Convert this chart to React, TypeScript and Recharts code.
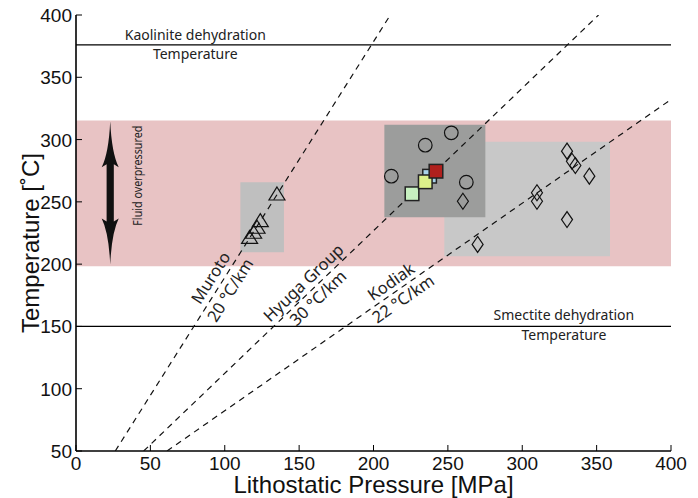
import React from "react";
import {
  ComposedChart,
  XAxis,
  YAxis,
  Scatter,
  Cell,
  Label,
  ReferenceArea,
  ReferenceLine,
  ReferenceDot,
} from "recharts";

const X_TICKS = [0, 50, 100, 150, 200, 250, 300, 350, 400];
const Y_TICKS = [50, 100, 150, 200, 250, 300, 350, 400];

// temperature windows / sample ranges: [pressure from, to], [temp from, to]
const FLUID_BAND = { x: [0, 400], y: [198.4, 315.3] };
const MUROTO_BOX = { x: [110.5, 139.8], y: [209.5, 265.8] };
const KODIAK_BOX = { x: [247.6, 359], y: [206.4, 298.2] };
const HYUGA_BOX = { x: [207.3, 275.2], y: [237.7, 311.8] };

const KAOLINITE_T = 376;
const SMECTITE_T = 150;

// geothermal gradients (pressure, temperature)
const MUROTO_GRADIENT = [
  { x: 26.4, y: 50 },
  { x: 211.3, y: 400 },
];
const HYUGA_GRADIENT = [
  { x: 45.5, y: 50 },
  { x: 351.3, y: 400 },
];
const KODIAK_GRADIENT = [
  { x: 61.2, y: 50 },
  { x: 400, y: 332.2 },
];

const MUROTO_PTS = [
  { x: 116.7, y: 221.1 },
  { x: 119.4, y: 225.2 },
  { x: 121.7, y: 229.2 },
  { x: 123.9, y: 234.5 },
  { x: 135.1, y: 255.9 },
];
const HYUGA_CIRCLES = [
  { x: 212, y: 270.6 },
  { x: 234.8, y: 295.5 },
  { x: 252.3, y: 305.4 },
  { x: 262.4, y: 265.8 },
];
const HYUGA_SQUARES = [
  { x: 237.7, y: 270.6 },
  { x: 225.9, y: 256.5 },
  { x: 234.8, y: 266.1 },
  { x: 242, y: 274.6 },
];
const KODIAK_PTS = [
  { x: 260.1, y: 250.5 },
  { x: 270, y: 215.8 },
  { x: 309.9, y: 257.3 },
  { x: 309.9, y: 250.5 },
  { x: 330.1, y: 290.7 },
  { x: 333.4, y: 282.6 },
  { x: 335.7, y: 279.2 },
  { x: 345.1, y: 270.6 },
  { x: 330.1, y: 235.8 },
];

// annotation anchors
const ARROW = [
  { x: 23, y: 199.7 },
  { x: 23, y: 314.7 },
];
const FLUID_LABEL = { x: 41, y: 271 };
const KAOLINITE_LABEL = { x: 80.2, y: KAOLINITE_T };
const SMECTITE_LABEL = { x: 328, y: SMECTITE_T };
const GRADIENT_LABELS = [
  { x: 97.3, y: 184, top: "Muroto", bottom: "20 °C/km", angle: -57.7, gap: 11.5 },
  { x: 158, y: 178.8, top: "Hyuga Group", bottom: "30 °C/km", angle: -43.8, gap: 10.5 },
  { x: 216, y: 178.8, top: "Kodiak", bottom: "22 °C/km", angle: -34.9, gap: 10.5 },
];

const SQUARE_FILLS = ["#a9d3ea", "#c7f0c0", "#dcf08a", "#b0201d"];

const AXIS_FONT = "'Liberation Sans', Arial, sans-serif";
const NOTE_FONT = "'Noto Sans', sans-serif";
const TICK_LEN = 6;

function BottomTick(props: any) {
  const { x, y, payload } = props;
  return (
    <g>
      <line x1={x} x2={x} y1={y} y2={y - TICK_LEN} stroke="#000" />
      <text x={x} y={y + 19} textAnchor="middle" fontSize={19} fontFamily={AXIS_FONT} fill="#111">
        {payload.value}
      </text>
    </g>
  );
}

function LeftTick(props: any) {
  const { x, y, payload } = props;
  return (
    <g>
      <line x1={x} x2={x + TICK_LEN} y1={y} y2={y} stroke="#000" />
      <text x={x - 4} y={y + 7} textAnchor="end" fontSize={19} fontFamily={AXIS_FONT} fill="#111">
        {payload.value}
      </text>
    </g>
  );
}

function TopTick(props: any) {
  const { x, y } = props;
  return <line x1={x} x2={x} y1={y} y2={y + TICK_LEN} stroke="#000" />;
}

function RightTick(props: any) {
  const { x, y } = props;
  return <line x1={x} x2={x - TICK_LEN} y1={y} y2={y} stroke="#000" />;
}

function Triangle(props: any) {
  const { cx, cy } = props;
  return (
    <path
      d={`M${cx},${cy - 7.5}L${cx + 8},${cy + 5.5}L${cx - 8},${cy + 5.5}Z`}
      fill="none"
      stroke="#111"
      strokeWidth={1.2}
    />
  );
}

function Ring(props: any) {
  const { cx, cy } = props;
  return <circle cx={cx} cy={cy} r={6.8} fill="none" stroke="#111" strokeWidth={1.2} />;
}

function Diamond(props: any) {
  const { cx, cy } = props;
  return (
    <path
      d={`M${cx},${cy - 8}L${cx + 5.5},${cy}L${cx},${cy + 8}L${cx - 5.5},${cy}Z`}
      fill="none"
      stroke="#111"
      strokeWidth={1.2}
    />
  );
}

function Square(props: any) {
  const { cx, cy, fill } = props;
  return <rect x={cx - 6.8} y={cy - 6.8} width={13.6} height={13.6} fill={fill} stroke="#222" strokeWidth={1.5} />;
}

function Nothing() {
  return <g />;
}

function DoubleArrow(props: any) {
  const { x1, y1, y2 } = props;
  const x = x1;
  const yt = Math.min(y1, y2);
  const yb = Math.max(y1, y2);
  const H = 46;
  const d = [
    `M${x},${yt}`,
    `Q${x + 1.5},${yt + 32} ${x + 8.5},${yt + H}`,
    `L${x + 3.6},${yt + H - 3}`,
    `L${x + 3.6},${yb - H + 3}`,
    `L${x + 8.5},${yb - H}`,
    `Q${x + 1.5},${yb - 32} ${x},${yb}`,
    `Q${x - 1.5},${yb - 32} ${x - 8.5},${yb - H}`,
    `L${x - 3.6},${yb - H + 3}`,
    `L${x - 3.6},${yt + H - 3}`,
    `L${x - 8.5},${yt + H}`,
    `Q${x - 1.5},${yt + 32} ${x},${yt}`,
    "Z",
  ].join(" ");
  return <path d={d} fill="#111" />;
}

function twoLineNote(above: string, below: string, up: number, down: number) {
  return (props: any) => (
    <g fontFamily={NOTE_FONT} fontSize={14} fill="#222" textAnchor="middle">
      <text x={props.cx} y={props.cy - up}>{above}</text>
      <text x={props.cx} y={props.cy + down}>{below}</text>
    </g>
  );
}

function gradientNote(top: string, bottom: string, angle: number, gap: number) {
  return (props: any) => (
    <g
      transform={`translate(${props.cx},${props.cy}) rotate(${angle})`}
      fontFamily={NOTE_FONT}
      fontSize={16.5}
      fill="#222"
      textAnchor="middle"
    >
      <text x={0} y={-gap + 5.5}>{top}</text>
      <text x={0} y={gap + 5.5}>{bottom}</text>
    </g>
  );
}

function fluidNote(props: any) {
  return (
    <text
      transform={`translate(${props.cx},${props.cy}) rotate(-90)`}
      textAnchor="middle"
      y={5}
      fontFamily={NOTE_FONT}
      fontSize={13}
      textLength={100}
      lengthAdjust="spacingAndGlyphs"
      fill="#222"
    >
      Fluid overpressured
    </text>
  );
}

export default function App() {
  const dashed = { stroke: "#111", strokeWidth: 1.2, strokeDasharray: "6 5" };
  return (
    <div style={{ position: "absolute", left: 0, top: 0, background: "#fff" }}>
      <ComposedChart width={698} height={498} margin={{ top: 15, right: 27, bottom: 0, left: 0 }}>
        <XAxis
          type="number"
          dataKey="x"
          domain={[0, 400]}
          ticks={X_TICKS}
          interval={0}
          allowDataOverflow
          height={47}
          tickSize={0}
          tickMargin={0}
          tickLine={false}
          tick={<BottomTick />}
          axisLine={{ stroke: "#000", strokeWidth: 1.6 }}
        >
          <Label
            content={(p: any) => (
              <text
                x={p.viewBox.x + p.viewBox.width / 2}
                y={p.viewBox.y + 42}
                textAnchor="middle"
                fontSize={24}
                fontFamily={AXIS_FONT}
                fill="#111"
              >
                Lithostatic Pressure [MPa]
              </text>
            )}
          />
        </XAxis>
        <XAxis
          xAxisId="top"
          orientation="top"
          type="number"
          domain={[0, 400]}
          ticks={X_TICKS}
          interval={0}
          allowDataOverflow
          height={0}
          tickSize={0}
          tickMargin={0}
          tickLine={false}
          tick={<TopTick />}
          axisLine={{ stroke: "#000", strokeWidth: 1.6 }}
        />
        <YAxis
          type="number"
          dataKey="y"
          domain={[50, 400]}
          ticks={Y_TICKS}
          interval={0}
          allowDataOverflow
          width={76}
          tickSize={0}
          tickMargin={0}
          tickLine={false}
          tick={<LeftTick />}
          axisLine={{ stroke: "#000", strokeWidth: 1.6 }}
        >
          <Label
            content={(p: any) => (
              <text
                transform={`translate(${p.viewBox.x + 39},${p.viewBox.y + p.viewBox.height / 2 + 10}) rotate(-90)`}
                textAnchor="middle"
                fontSize={24}
                fontFamily={AXIS_FONT}
                fill="#111"
              >
                Temperature [˚C]
              </text>
            )}
          />
        </YAxis>
        <YAxis
          yAxisId="right"
          orientation="right"
          type="number"
          domain={[50, 400]}
          ticks={Y_TICKS}
          interval={0}
          allowDataOverflow
          width={0}
          tickSize={0}
          tickMargin={0}
          tickLine={false}
          tick={<RightTick />}
          axisLine={{ stroke: "#000", strokeWidth: 1.6 }}
        />

        <ReferenceArea
          x1={FLUID_BAND.x[0]}
          x2={FLUID_BAND.x[1]}
          y1={FLUID_BAND.y[0]}
          y2={FLUID_BAND.y[1]}
          fill="#e8c3c4"
          fillOpacity={1}
          stroke="none"
        />
        <ReferenceArea
          x1={MUROTO_BOX.x[0]}
          x2={MUROTO_BOX.x[1]}
          y1={MUROTO_BOX.y[0]}
          y2={MUROTO_BOX.y[1]}
          fill="#bfbfbf"
          fillOpacity={1}
          stroke="none"
        />
        <ReferenceArea
          x1={KODIAK_BOX.x[0]}
          x2={KODIAK_BOX.x[1]}
          y1={KODIAK_BOX.y[0]}
          y2={KODIAK_BOX.y[1]}
          fill="#c8c8c8"
          fillOpacity={1}
          stroke="none"
        />
        <ReferenceArea
          x1={HYUGA_BOX.x[0]}
          x2={HYUGA_BOX.x[1]}
          y1={HYUGA_BOX.y[0]}
          y2={HYUGA_BOX.y[1]}
          fill="#9c9d9c"
          fillOpacity={1}
          stroke="none"
        />

        <ReferenceLine y={KAOLINITE_T} stroke="#000" strokeWidth={1.3} />
        <ReferenceLine y={SMECTITE_T} stroke="#000" strokeWidth={1.3} />
        <ReferenceLine segment={ARROW} shape={<DoubleArrow />} />

        <Scatter data={MUROTO_GRADIENT} fill="#111" line={dashed} shape={<Nothing />} isAnimationActive={false} />
        <Scatter data={HYUGA_GRADIENT} fill="#111" line={dashed} shape={<Nothing />} isAnimationActive={false} />
        <Scatter data={KODIAK_GRADIENT} fill="#111" line={dashed} shape={<Nothing />} isAnimationActive={false} />

        <Scatter data={MUROTO_PTS} shape={<Triangle />} isAnimationActive={false} />
        <Scatter data={HYUGA_CIRCLES} shape={<Ring />} isAnimationActive={false} />
        <Scatter data={KODIAK_PTS} shape={<Diamond />} isAnimationActive={false} />
        <Scatter data={HYUGA_SQUARES} shape={<Square />} isAnimationActive={false}>
          {HYUGA_SQUARES.map((_, i) => (
            <Cell key={i} fill={SQUARE_FILLS[i]} />
          ))}
        </Scatter>

        <ReferenceDot
          x={KAOLINITE_LABEL.x}
          y={KAOLINITE_LABEL.y}
          shape={twoLineNote("Kaolinite dehydration", "Temperature", 5, 14)}
        />
        <ReferenceDot
          x={SMECTITE_LABEL.x}
          y={SMECTITE_LABEL.y}
          shape={twoLineNote("Smectite dehydration", "Temperature", 6, 13.5)}
        />
        <ReferenceDot x={FLUID_LABEL.x} y={FLUID_LABEL.y} shape={fluidNote} />
        {GRADIENT_LABELS.map((g) => (
          <ReferenceDot key={g.top} x={g.x} y={g.y} shape={gradientNote(g.top, g.bottom, g.angle, g.gap)} />
        ))}
      </ComposedChart>
    </div>
  );
}
